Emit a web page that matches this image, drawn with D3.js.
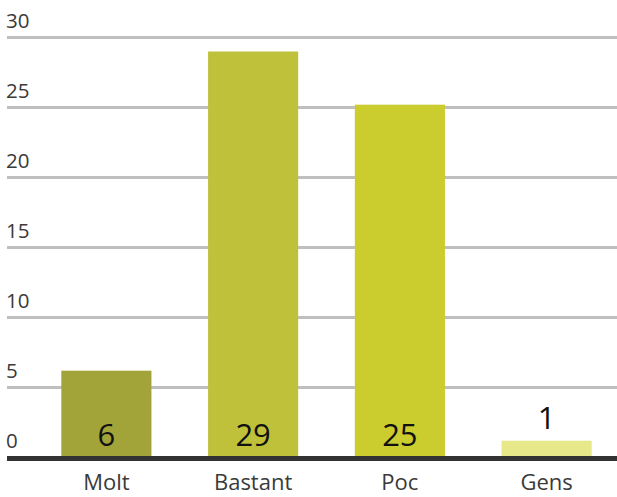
<!DOCTYPE html>
<html>
<head>
<meta charset="utf-8">
<script src="https://cdn.jsdelivr.net/npm/d3@7"></script>
<style>
  html, body { margin: 0; padding: 0; background: #fff; }
  svg { display: block; }
</style>
</head>
<body>
<svg id="chart" width="617" height="497"></svg>
<script>
const categories = ["Molt", "Bastant", "Poc", "Gens"];
const values = [6.2, 29, 25.2, 1.2];
const valueLabels = ["6", "29", "25", "1"];
const barColors = ["#a2a43a", "#c0c13a", "#cbcc2d", "#e6e88a"];
const yTicks = [0, 5, 10, 15, 20, 25, 30];

const svg = d3.select("#chart");
const font = "'Open Sans', 'Noto Sans', sans-serif";

const y = d3.scaleLinear().domain([0, 30]).range([457.5, 37.5]);
const x = d3.scaleBand().domain(categories).range([33, 620])
  .paddingInner(0.386).paddingOuter(0.193);

// gridlines
svg.append("g").selectAll("line").data(yTicks.filter(d => d > 0)).join("line")
  .attr("x1", 7).attr("x2", 617)
  .attr("y1", d => y(d)).attr("y2", d => y(d))
  .attr("stroke", "#bfbfbf").attr("stroke-width", 3);

// tick labels
svg.append("g").selectAll("text").data(yTicks).join("text")
  .attr("x", 6).attr("y", d => y(d) - 9.5)
  .attr("font-family", font).attr("font-size", 20.5)
  .attr("fill", "#3a3a3a")
  .text(d => d);

// bars
svg.append("g").selectAll("rect").data(values).join("rect")
  .attr("x", (d, i) => x(categories[i]))
  .attr("width", x.bandwidth())
  .attr("y", d => y(d))
  .attr("height", d => y(0) - y(d))
  .attr("fill", (d, i) => barColors[i]);

// baseline
svg.append("line")
  .attr("x1", 7).attr("x2", 617)
  .attr("y1", y(0) + 1).attr("y2", y(0) + 1)
  .attr("stroke", "#333333").attr("stroke-width", 5);

// value labels
svg.append("g").selectAll("text").data(values).join("text")
  .attr("x", (d, i) => x(categories[i]) + x.bandwidth() / 2)
  .attr("y", d => (y(0) - y(d)) > 40 ? y(0) - 12 : y(d) - 12)
  .attr("text-anchor", "middle")
  .attr("font-family", font).attr("font-size", 31)
  .attr("fill", "#111")
  .text((d, i) => valueLabels[i]);

// category labels
svg.append("g").selectAll("text").data(categories).join("text")
  .attr("x", d => x(d) + x.bandwidth() / 2)
  .attr("y", 490)
  .attr("text-anchor", "middle")
  .attr("font-family", font).attr("font-size", 22)
  .attr("fill", "#3a3a3a")
  .text(d => d);
</script>
</body>
</html>
